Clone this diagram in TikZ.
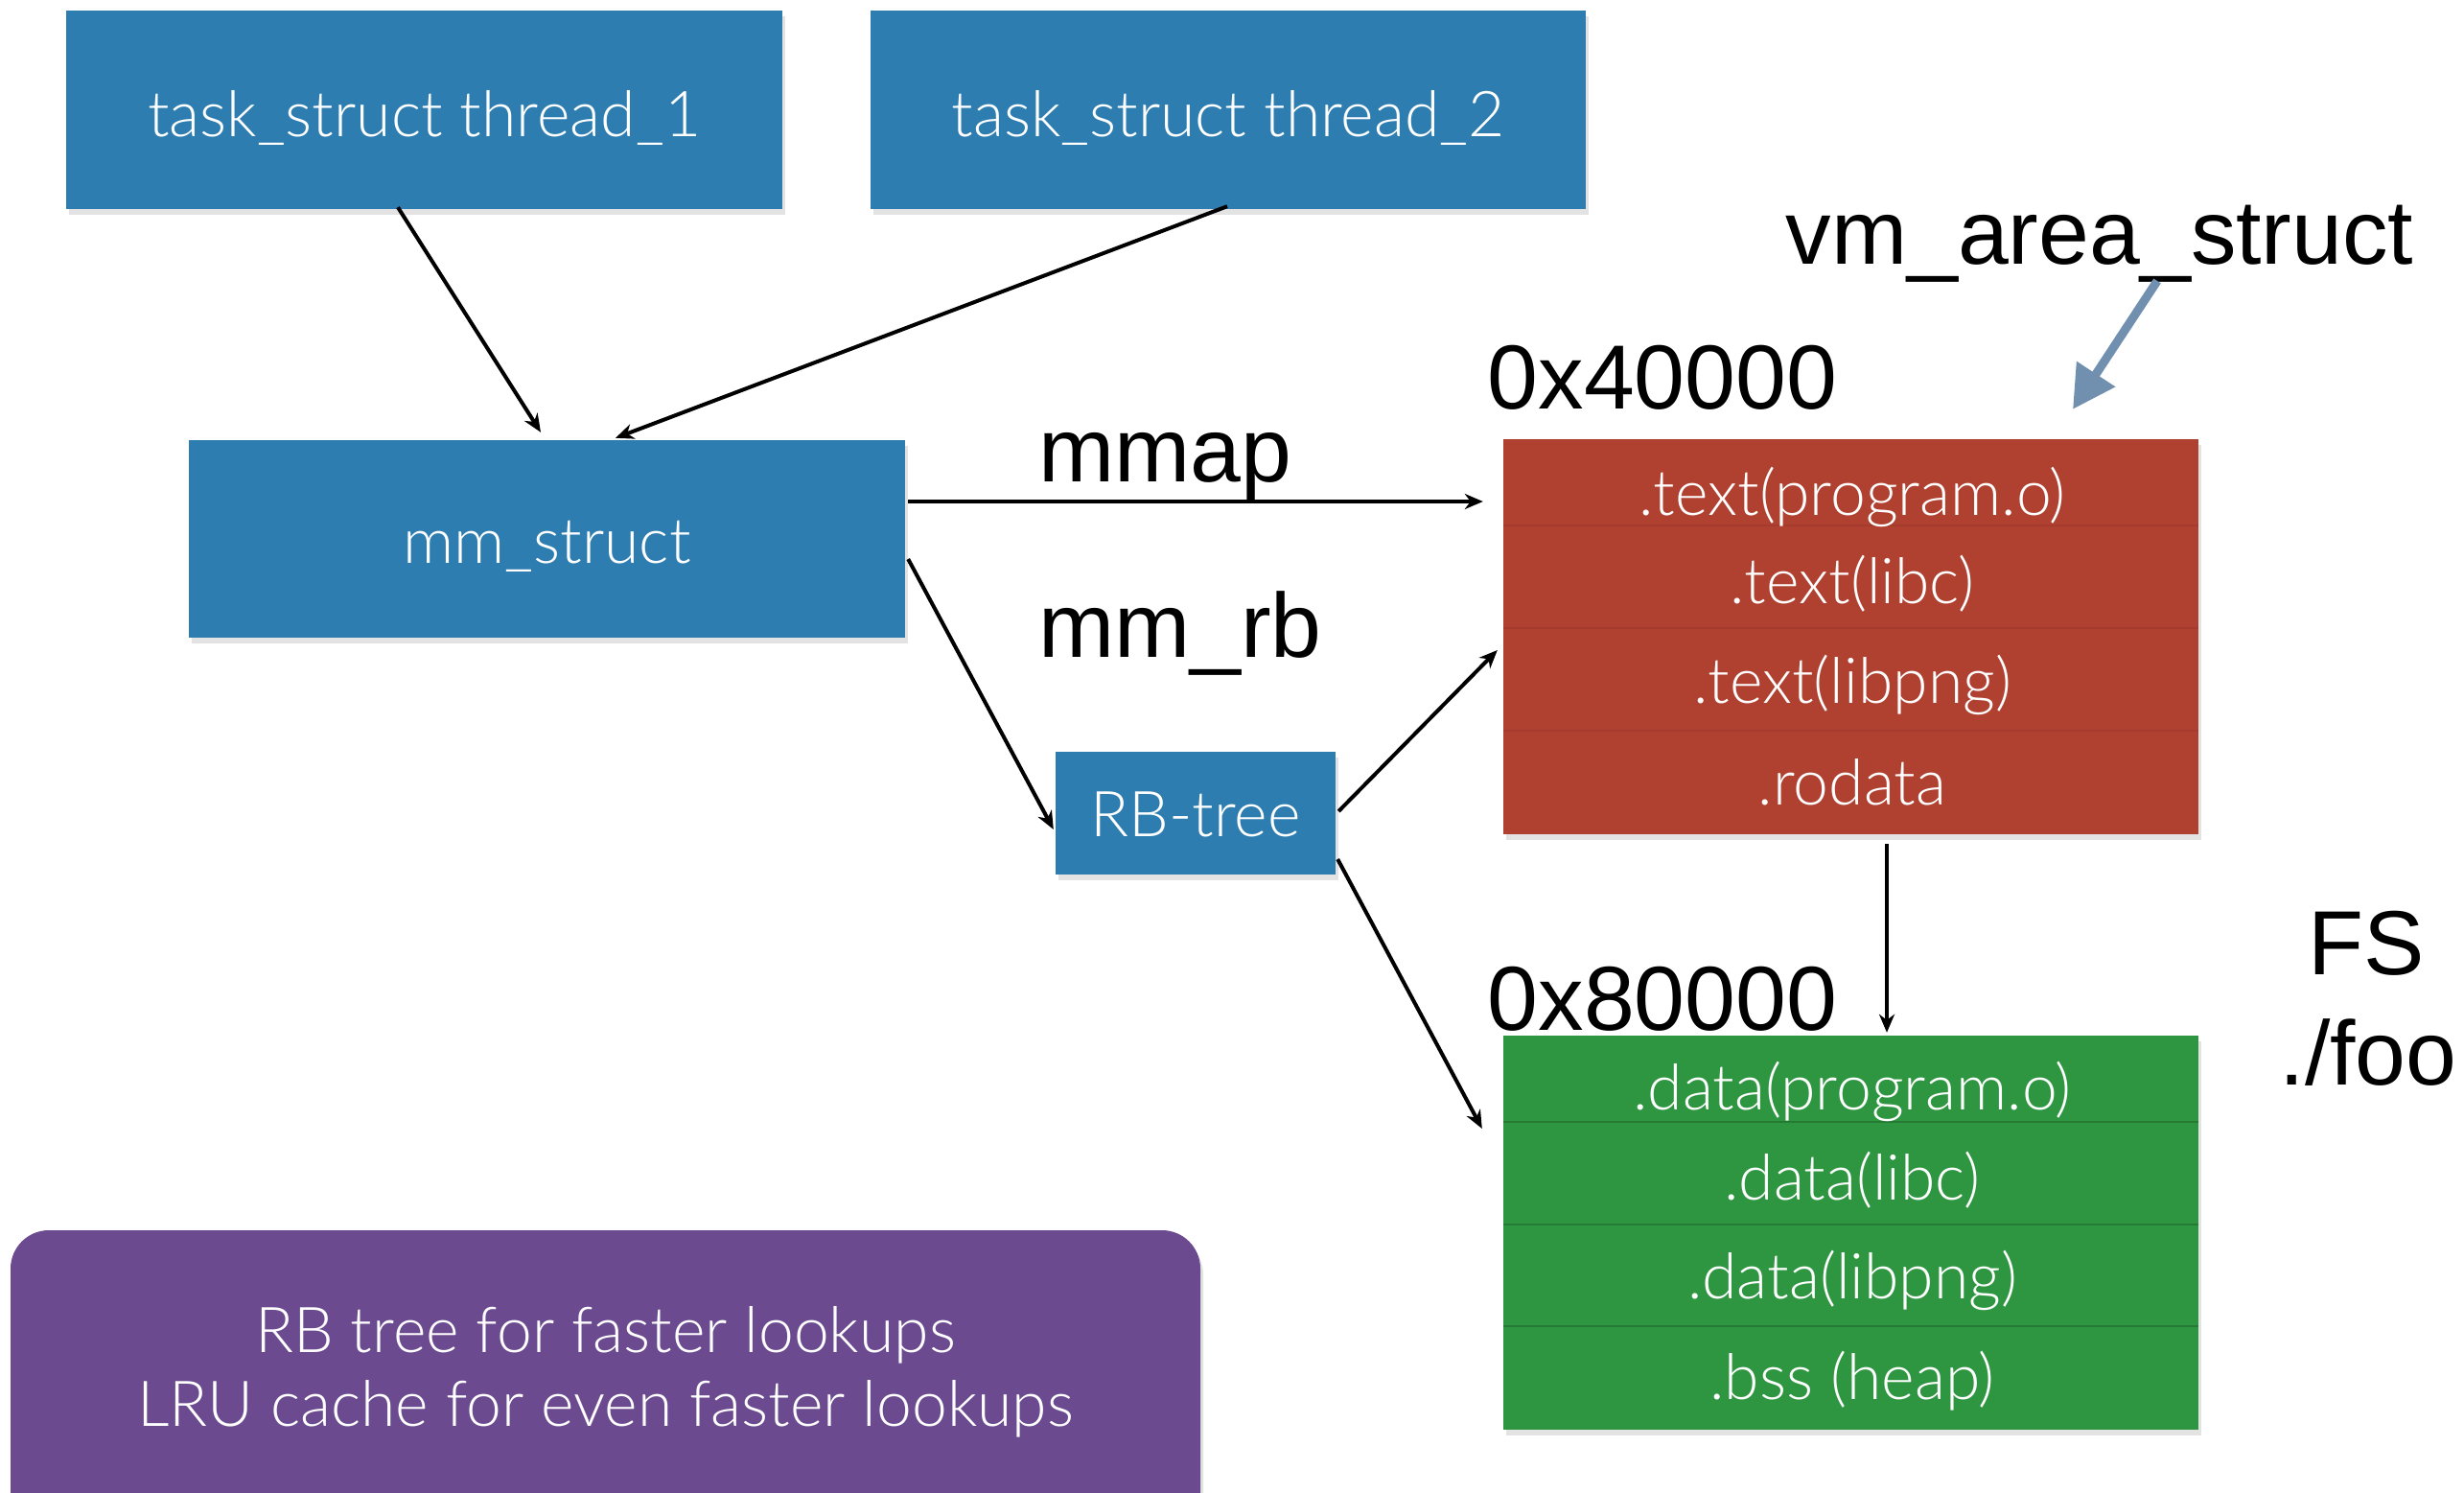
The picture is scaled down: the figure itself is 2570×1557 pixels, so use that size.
\documentclass[tikz,border=0pt]{standalone}
\usepackage{fontspec}
\setmainfont{Liberation Sans}
\IfFontExistsTF{Lato Light}{\newfontfamily\lightf{Lato Light}}{\newfontfamily\lightf{Liberation Sans}}
\usetikzlibrary{arrows.meta,shadows,calc}
\definecolor{bxblue}{RGB}{46,125,176}
\definecolor{bxred}{RGB}{176,64,48}
\definecolor{bxgreen}{RGB}{46,150,64}
\definecolor{bxpurple}{RGB}{107,74,143}
\definecolor{arrblue}{RGB}{113,144,176}
\tikzset{
  box/.style={draw=none, inner sep=0, drop shadow={shadow xshift=3pt, shadow yshift=-6pt, opacity=0.22}},
  bluebox/.style={box, fill=bxblue},
  wt/.style={text=white, inner sep=0, anchor=base, font=\lightf\fontsize{66}{66}\selectfont},
  lbl/.style={text=black, inner sep=0, anchor=base, font=\fontsize{95}{95}\selectfont},
  arr/.style={draw=black, line width=4pt, -{Stealth[length=19pt,width=16pt,inset=6pt]}},
  sepred/.style={draw=bxred!75!black, line width=2pt, opacity=0.25},
  sepgreen/.style={draw=bxgreen!70!black, line width=2.5pt, opacity=0.6},
}
\begin{document}
\begin{tikzpicture}[x=1pt,y=-1pt]
\useasboundingbox (0,0) rectangle (2570,1557);
\fill[white] (0,0) rectangle (2570,1557);

% boxes
\node[bluebox, minimum width=747pt, minimum height=207pt] (t1) at (442.5,114.5) {};
\node[bluebox, minimum width=746pt, minimum height=207pt] (t2) at (1281,114.5) {};
\node[bluebox, minimum width=747pt, minimum height=206pt] (mm) at (570.5,562) {};
\node[bluebox, minimum width=292pt, minimum height=128pt] (rb) at (1247,848) {};
\node[box, fill=bxred, minimum width=725pt, minimum height=412pt] (red) at (1930.5,664) {};
\node[box, fill=bxgreen, minimum width=725pt, minimum height=411pt] (green) at (1930.5,1285.5) {};
\node[box, fill=bxpurple, rounded corners=40pt, minimum width=1241pt, minimum height=320pt] (purple) at (631.5,1443) {};

% separators
\draw[sepred] (red.west |- 0,548) -- (red.east |- 0,548);
\draw[sepred] (red.west |- 0,655) -- (red.east |- 0,655);
\draw[sepred] (red.west |- 0,762) -- (red.east |- 0,762);
\draw[sepgreen] (green.west |- 0,1170) -- (green.east |- 0,1170);
\draw[sepgreen] (green.west |- 0,1277) -- (green.east |- 0,1277);
\draw[sepgreen] (green.west |- 0,1383) -- (green.east |- 0,1383);

% box texts
\node[wt] (t1txt) at (442.5,143) {task\_struct thread\_1};
\node[wt] (t2txt) at (1281,143) {task\_struct thread\_2};
\node[wt] (mmtxt) at (570.5,587) {mm\_struct};
\node[wt] (rbtxt) at (1247,872) {RB-tree};
\node[wt] (r1) at (1932,537) {.text(program.o)};
\node[wt] (r2) at (1932,629) {.text(libc)};
\node[wt] (r3) at (1932,733) {.text(libpng)};
\node[wt] (r4) at (1932,839) {.rodata};
\node[wt] (g1) at (1932,1157) {.data(program.o)};
\node[wt] (g2) at (1932,1251) {.data(libc)};
\node[wt] (g3) at (1932,1354) {.data(libpng)};
\node[wt] (g4) at (1932,1459) {.bss (heap)};
\node[wt] (p1) at (631.5,1410) {RB tree for faster lookups};
\node[wt] (p2) at (631.5,1487) {LRU cache for even faster lookups};

% black labels
\node[lbl] (vm) at (2190,275) {vm\_area\_struct};
\node[lbl] (a40) at (1734,426) {0x40000};
\node[lbl] (mmap) at (1215,502) {mmap};
\node[lbl] (mmrb) at (1231,685) {mm\_rb};
\node[lbl] (a80) at (1734,1074) {0x80000};
\node[lbl] (fs) at (2468,1016) {FS};
\node[lbl] (foo) at (2470,1131) {./foo};

% connectors
\draw[arr] ([xshift=-27.5pt,yshift=2pt]t1.south) -- ([xshift=-6.5pt,yshift=8pt]mm.north);
\draw[arr] ([xshift=-1pt,yshift=3pt]t2.south) -- ([xshift=71.5pt,yshift=2pt]mm.north);
\draw[arr] ([xshift=3pt,yshift=39pt]mm.east) coordinate (mmapS) -- ([xshift=-21pt]mmapS -| red.west);
\draw[arr] ([xshift=3pt,yshift=-21pt]mm.east) -- ([xshift=-2pt,yshift=-17pt]rb.west);
\draw[arr] ([xshift=3pt,yshift=2pt]rb.east) -- ([xshift=-6pt,yshift=-14pt]red.west);
\draw[arr] ([xshift=2pt,yshift=-48pt]rb.east) -- ([xshift=-22pt,yshift=108.5pt]green.west);
\draw[arr] ([xshift=37.5pt,yshift=-10pt]red.south) coordinate (rgS) -- ([yshift=3pt]rgS |- green.north);

\coordinate (vmfrom) at (2250,293);
\draw[arrblue, line width=9pt, -{Triangle[length=44pt,width=46pt]}] (vmfrom) -- ([xshift=231.5pt,yshift=31pt]red.north);
\end{tikzpicture}
\end{document}
